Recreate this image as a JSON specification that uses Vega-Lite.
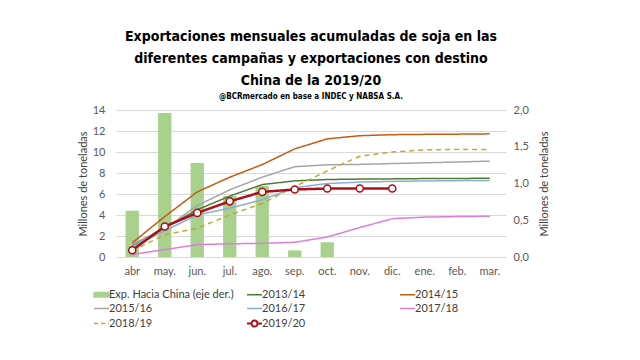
{
  "$schema": "https://vega.github.io/schema/vega-lite/v6.json",
  "width": 390,
  "height": 147,
  "autosize": {"type": "none"},
  "padding": {"left": 116, "top": 110, "right": 134, "bottom": 103},
  "background": "white",
  "config": {
    "view": {"stroke": null},
    "font": "Lato",
    "axis": {"labelFont": "Lato", "labelFontSize": 11, "labelColor": "#595959", "labelOverlap": false, "titleFont": "Lato", "titleFontSize": 11, "titleFontWeight": "normal", "titleColor": "#404040", "domain": false, "ticks": false, "gridColor": "#d9d9d9"}
  },
  "title": {
    "text": ["Exportaciones mensuales acumuladas de soja en las", "diferentes campañas y exportaciones con destino", "China de la 2019/20"],
    "subtitle": "@BCRmercado  en base a INDEC y NABSA S.A.",
    "anchor": "middle",
    "frame": "group",
    "font": "Liberation Sans Narrow, DejaVu Sans Condensed",
    "fontSize": 14,
    "fontWeight": "bold",
    "lineHeight": 22,
    "color": "#000000",
    "subtitleFont": "Liberation Sans Narrow, DejaVu Sans Condensed",
    "subtitleFontSize": 8,
    "subtitleFontWeight": "bold",
    "subtitleColor": "#000000",
    "subtitlePadding": 5,
    "offset": 3
  },
  "datasets": {
    "china": [
      {"mes": "abr", "valor": 0.63},
      {"mes": "may.", "valor": 1.96},
      {"mes": "jun.", "valor": 1.28},
      {"mes": "jul.", "valor": 0.83},
      {"mes": "ago.", "valor": 0.97},
      {"mes": "sep.", "valor": 0.09},
      {"mes": "oct.", "valor": 0.2}
    ],
    "campanas": [
      {"mes": "abr", "serie": "2013/14", "valor": 1.1},
      {"mes": "may.", "serie": "2013/14", "valor": 2.8},
      {"mes": "jun.", "serie": "2013/14", "valor": 4.5},
      {"mes": "jul.", "serie": "2013/14", "valor": 5.8},
      {"mes": "ago.", "serie": "2013/14", "valor": 6.9},
      {"mes": "sep.", "serie": "2013/14", "valor": 7.25},
      {"mes": "oct.", "serie": "2013/14", "valor": 7.38},
      {"mes": "nov.", "serie": "2013/14", "valor": 7.42},
      {"mes": "dic.", "serie": "2013/14", "valor": 7.44},
      {"mes": "ene.", "serie": "2013/14", "valor": 7.47},
      {"mes": "feb.", "serie": "2013/14", "valor": 7.48},
      {"mes": "mar.", "serie": "2013/14", "valor": 7.5},
      {"mes": "abr", "serie": "2014/15", "valor": 1.35},
      {"mes": "may.", "serie": "2014/15", "valor": 3.85},
      {"mes": "jun.", "serie": "2014/15", "valor": 6.2},
      {"mes": "jul.", "serie": "2014/15", "valor": 7.6},
      {"mes": "ago.", "serie": "2014/15", "valor": 8.8},
      {"mes": "sep.", "serie": "2014/15", "valor": 10.3},
      {"mes": "oct.", "serie": "2014/15", "valor": 11.25},
      {"mes": "nov.", "serie": "2014/15", "valor": 11.55},
      {"mes": "dic.", "serie": "2014/15", "valor": 11.65},
      {"mes": "ene.", "serie": "2014/15", "valor": 11.68},
      {"mes": "feb.", "serie": "2014/15", "valor": 11.7},
      {"mes": "mar.", "serie": "2014/15", "valor": 11.73},
      {"mes": "abr", "serie": "2015/16", "valor": 1.2},
      {"mes": "may.", "serie": "2015/16", "valor": 2.7},
      {"mes": "jun.", "serie": "2015/16", "valor": 4.9},
      {"mes": "jul.", "serie": "2015/16", "valor": 6.4},
      {"mes": "ago.", "serie": "2015/16", "valor": 7.6},
      {"mes": "sep.", "serie": "2015/16", "valor": 8.6},
      {"mes": "oct.", "serie": "2015/16", "valor": 8.78},
      {"mes": "nov.", "serie": "2015/16", "valor": 8.82},
      {"mes": "dic.", "serie": "2015/16", "valor": 8.9},
      {"mes": "ene.", "serie": "2015/16", "valor": 8.97},
      {"mes": "feb.", "serie": "2015/16", "valor": 9.05},
      {"mes": "mar.", "serie": "2015/16", "valor": 9.13},
      {"mes": "abr", "serie": "2016/17", "valor": 1.0},
      {"mes": "may.", "serie": "2016/17", "valor": 2.5},
      {"mes": "jun.", "serie": "2016/17", "valor": 4.0},
      {"mes": "jul.", "serie": "2016/17", "valor": 4.65},
      {"mes": "ago.", "serie": "2016/17", "valor": 5.45},
      {"mes": "sep.", "serie": "2016/17", "valor": 6.6},
      {"mes": "oct.", "serie": "2016/17", "valor": 7.0},
      {"mes": "nov.", "serie": "2016/17", "valor": 7.13},
      {"mes": "dic.", "serie": "2016/17", "valor": 7.2},
      {"mes": "ene.", "serie": "2016/17", "valor": 7.24},
      {"mes": "feb.", "serie": "2016/17", "valor": 7.27},
      {"mes": "mar.", "serie": "2016/17", "valor": 7.29},
      {"mes": "abr", "serie": "2017/18", "valor": 0.25},
      {"mes": "may.", "serie": "2017/18", "valor": 0.7},
      {"mes": "jun.", "serie": "2017/18", "valor": 1.18},
      {"mes": "jul.", "serie": "2017/18", "valor": 1.26},
      {"mes": "ago.", "serie": "2017/18", "valor": 1.3},
      {"mes": "sep.", "serie": "2017/18", "valor": 1.4},
      {"mes": "oct.", "serie": "2017/18", "valor": 1.9},
      {"mes": "nov.", "serie": "2017/18", "valor": 2.8},
      {"mes": "dic.", "serie": "2017/18", "valor": 3.65},
      {"mes": "ene.", "serie": "2017/18", "valor": 3.8},
      {"mes": "feb.", "serie": "2017/18", "valor": 3.85},
      {"mes": "mar.", "serie": "2017/18", "valor": 3.88},
      {"mes": "abr", "serie": "2018/19", "valor": 0.6},
      {"mes": "may.", "serie": "2018/19", "valor": 2.1},
      {"mes": "jun.", "serie": "2018/19", "valor": 2.75},
      {"mes": "jul.", "serie": "2018/19", "valor": 4.0},
      {"mes": "ago.", "serie": "2018/19", "valor": 5.1},
      {"mes": "sep.", "serie": "2018/19", "valor": 6.7},
      {"mes": "oct.", "serie": "2018/19", "valor": 8.2},
      {"mes": "nov.", "serie": "2018/19", "valor": 9.6},
      {"mes": "dic.", "serie": "2018/19", "valor": 10.0},
      {"mes": "ene.", "serie": "2018/19", "valor": 10.2},
      {"mes": "feb.", "serie": "2018/19", "valor": 10.25},
      {"mes": "mar.", "serie": "2018/19", "valor": 10.25},
      {"mes": "abr", "serie": "2019/20", "valor": 0.65},
      {"mes": "may.", "serie": "2019/20", "valor": 2.9},
      {"mes": "jun.", "serie": "2019/20", "valor": 4.2},
      {"mes": "jul.", "serie": "2019/20", "valor": 5.3},
      {"mes": "ago.", "serie": "2019/20", "valor": 6.2},
      {"mes": "sep.", "serie": "2019/20", "valor": 6.43},
      {"mes": "oct.", "serie": "2019/20", "valor": 6.52},
      {"mes": "nov.", "serie": "2019/20", "valor": 6.52},
      {"mes": "dic.", "serie": "2019/20", "valor": 6.52}
    ]
  },
  "layer": [
    {
      "data": {"name": "china"},
      "mark": {"type": "bar", "color": "#a9d18e"},
      "encoding": {
        "x": {"field": "mes", "type": "nominal", "sort": ["abr", "may.", "jun.", "jul.", "ago.", "sep.", "oct.", "nov.", "dic.", "ene.", "feb.", "mar."], "scale": {"domain": ["abr", "may.", "jun.", "jul.", "ago.", "sep.", "oct.", "nov.", "dic.", "ene.", "feb.", "mar."], "paddingInner": 0.59, "paddingOuter": 0.295}, "axis": {"title": null, "labelAngle": 0, "labelPadding": 8, "grid": false}},
        "y": {"field": "valor", "type": "quantitative", "scale": {"domain": [0, 2]}, "axis": {"orient": "right", "title": "Millones de toneladas", "titleAngle": 270, "titleBaseline": "top", "titlePadding": 10, "grid": false, "values": [0, 0.5, 1, 1.5, 2], "labelExpr": "replace(format(datum.value, '.1f'), '.', ',')", "labelPadding": 7}}
      }
    },
    {
      "data": {"name": "campanas"},
      "layer": [
        {
          "mark": {"type": "line", "strokeJoin": "round"},
          "encoding": {
            "x": {"field": "mes", "type": "nominal", "sort": ["abr", "may.", "jun.", "jul.", "ago.", "sep.", "oct.", "nov.", "dic.", "ene.", "feb.", "mar."], "bandPosition": 0.5},
            "y": {"field": "valor", "type": "quantitative", "scale": {"domain": [0, 14]}, "axis": {"orient": "left", "title": "Millones de toneladas", "titlePadding": 4, "values": [0, 2, 4, 6, 8, 10, 12, 14], "labelPadding": 11, "grid": true}},
            "color": {
              "field": "serie",
              "type": "nominal",
              "scale": {
                "domain": ["Exp. Hacia China (eje der.)", "2013/14", "2014/15", "2015/16", "2016/17", "2017/18", "2018/19", "2019/20"],
                "range": ["#a9d18e", "#4e7d32", "#c55a11", "#a5a5a5", "#8fabd9", "#dc7edc", "#bfa83a", "#a8101a"]
              },
              "legend": {
                "title": null,
                "orient": "none",
                "legendX": -20,
                "legendY": 178,
                "direction": "horizontal",
                "columns": 3,
                "gridAlign": "all",
                "columnPadding": 9,
                "rowPadding": 0,
                "labelFont": "Lato",
                "labelFontSize": 11,
                "labelColor": "#404040",
                "labelOffset": 2,
                "labelLimit": 200,
                "symbolSize": 225,
                "symbolType": "stroke",
                "encode": {
                  "symbols": {
                    "update": {
                      "shape": {"signal": "datum.value === 'Exp. Hacia China (eje der.)' ? 'M-1,-0.3H1V0.3H-1Z' : (datum.value === '2019/20' ? 'M-1,0H-0.4M0.4,0H1M-0.4,0A0.4,0.4,0,1,1,0.4,0A0.4,0.4,0,1,1,-0.4,0' : 'stroke')"},
                      "fill": {"signal": "datum.value === 'Exp. Hacia China (eje der.)' ? '#a9d18e' : (datum.value === '2019/20' ? '#ffffff' : 'transparent')"},
                      "stroke": {"scale": "color", "field": "value"},
                      "strokeDash": {"signal": "datum.value === '2018/19' ? [4, 3] : [1, 0]"},
                      "strokeWidth": {"signal": "datum.value === '2019/20' ? 2 : 1.5"},
                      "opacity": {"value": 1}
                    }
                  }
                }
              }
            },
            "strokeWidth": {"condition": {"test": "datum.serie === '2019/20'", "value": 2.5}, "value": 1.5},
            "strokeDash": {"condition": {"test": "datum.serie === '2018/19'", "value": [5, 4]}, "value": [1, 0]}
          }
        },
        {
          "transform": [{"filter": "datum.serie === '2019/20'"}],
          "mark": {"type": "point", "shape": "circle", "filled": true, "fill": "#ffffff", "stroke": "#a8101a", "strokeWidth": 1.5, "size": 50, "opacity": 1},
          "encoding": {
            "x": {"field": "mes", "type": "nominal", "sort": ["abr", "may.", "jun.", "jul.", "ago.", "sep.", "oct.", "nov.", "dic.", "ene.", "feb.", "mar."], "bandPosition": 0.5},
            "y": {"field": "valor", "type": "quantitative", "scale": {"domain": [0, 14]}, "axis": {"orient": "left", "title": "Millones de toneladas", "titlePadding": 4, "values": [0, 2, 4, 6, 8, 10, 12, 14], "labelPadding": 11, "grid": true}}
          }
        }
      ]
    }
  ],
  "resolve": {"scale": {"y": "independent"}}
}
